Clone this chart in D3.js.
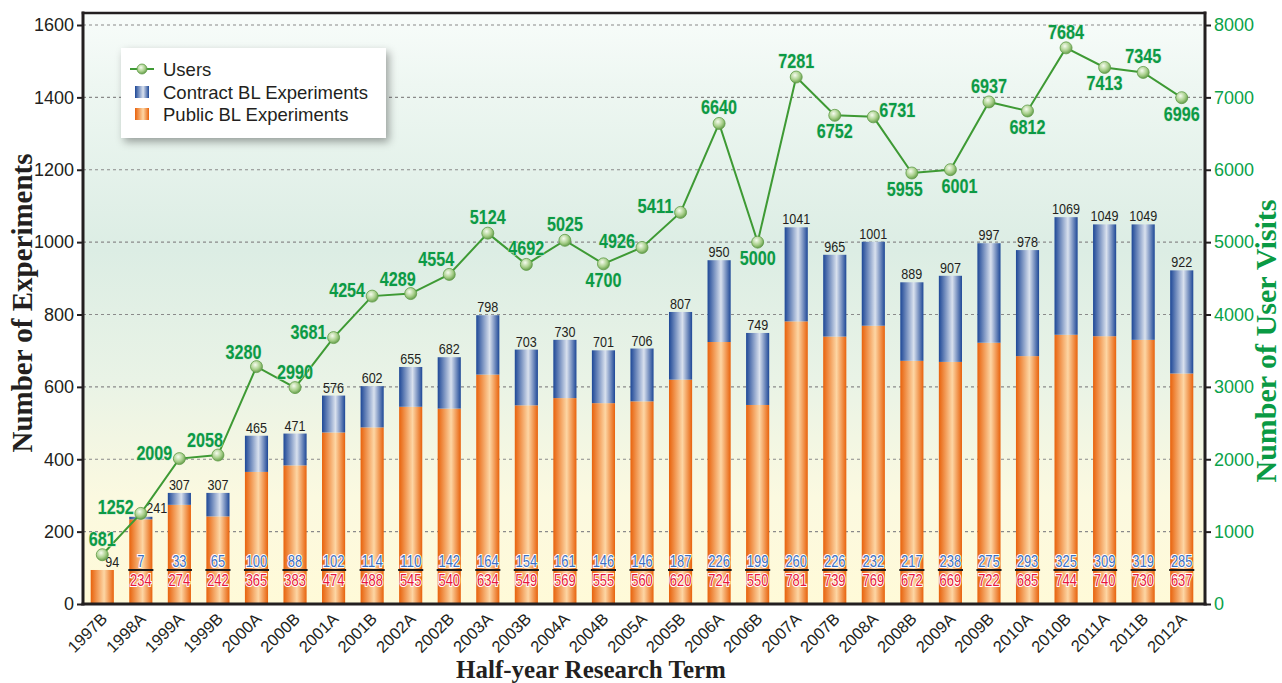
<!DOCTYPE html>
<html>
<head>
<meta charset="utf-8">
<script src="https://cdn.jsdelivr.net/npm/d3@7"></script>
<style>
body { margin: 0; background: #fff; }
svg { display: block; }
text { font-family: "Liberation Sans", Arial, sans-serif; }
.serif { font-family: "Liberation Serif", "Times New Roman", serif; font-weight: bold; }
</style>
</head>
<body>
<script>
//Chart data

const terms = ["1997B", "1998A", "1999A", "1999B", "2000A", "2000B", "2001A", "2001B", "2002A", "2002B",
    "2003A", "2003B", "2004A", "2004B", "2005A", "2005B", "2006A", "2006B", "2007A", "2007B",
    "2008A", "2008B", "2009A", "2009B", "2010A", "2010B", "2011A", "2011B", "2012A"];

const publicBL = [94, 234, 274, 242, 365, 383, 474, 488, 545, 540,
    634, 549, 569, 555, 560, 620, 724, 550, 781, 739,
    769, 672, 669, 722, 685, 744, 740, 730, 637];

const contractBL = [0, 7, 33, 65, 100, 88, 102, 114, 110, 142,
    164, 154, 161, 146, 146, 187, 226, 199, 260, 226,
    232, 217, 238, 275, 293, 325, 309, 319, 285];

const users = [681, 1252, 2009, 2058, 3280, 2990, 3681, 4254, 4289, 4554,
    5124, 4692, 5025, 4700, 4926, 5411, 6640, 5000, 7281, 6752,
    6731, 5955, 6001, 6937, 6812, 7684, 7413, 7345, 6996];

const leftTicks = [0, 200, 400, 600, 800, 1000, 1200, 1400, 1600];
const rightTicks = [0, 1000, 2000, 3000, 4000, 5000, 6000, 7000, 8000];

// where each user label sits around its point (A above, AL above-left, B below, BL/BR below-left/right, L left, R right)
const userLabelPos = ["A", "L", "L", "AL", "AL", "A", "L", "L", "AL", "AL",
    "A", "A", "A", "B", "L", "L", "A", "B", "A", "B",
    "R", "BL", "BR", "A", "B", "A", "B", "A", "B"];

//Setting up the svg

var width = 1282, height = 683;
var plot = { left: 83, right: 1205, top: 13, bottom: 604 };

var svg = d3.select("body")
    .append("svg")
    .attr("width", width)
    .attr("height", height);

var defs = svg.append("defs");

var bg = defs.append("linearGradient").attr("id", "bg")
    .attr("x1", 0).attr("y1", 0).attr("x2", 0).attr("y2", 1);
[[0, "#f8fcfa"], [0.12, "#eef7f2"], [0.4, "#dcede4"], [0.62, "#e9f3e6"], [0.82, "#fbf9e0"], [1, "#fffad8"]]
    .forEach(function (s) { bg.append("stop").attr("offset", s[0]).attr("stop-color", s[1]); });

function barGradient(id, dark, light) {
    var g = defs.append("linearGradient").attr("id", id)
        .attr("x1", 0).attr("y1", 0).attr("x2", 1).attr("y2", 0);
    g.append("stop").attr("offset", 0).attr("stop-color", dark);
    g.append("stop").attr("offset", 0.58).attr("stop-color", light);
    g.append("stop").attr("offset", 1).attr("stop-color", dark);
}
barGradient("orange", "#e8620c", "#fdd6a4");
barGradient("blue", "#1d4796", "#d9e1ee");

var dot = defs.append("radialGradient").attr("id", "dot")
    .attr("cx", 0.4).attr("cy", 0.35).attr("r", 0.65);
dot.append("stop").attr("offset", 0).attr("stop-color", "#f6fbef");
dot.append("stop").attr("offset", 0.6).attr("stop-color", "#a9d08c");
dot.append("stop").attr("offset", 1).attr("stop-color", "#679f4c");

var shadow = defs.append("filter").attr("id", "shadow")
    .attr("x", -0.1).attr("y", -0.2).attr("width", 1.3).attr("height", 1.5);
shadow.append("feDropShadow").attr("dx", 3).attr("dy", 4)
    .attr("stdDeviation", 4).attr("flood-color", "#000").attr("flood-opacity", 0.35);

// the source uses a condensed face, so squeeze the digits
function squeeze(sel, perChar) {
    sel.attr("textLength", function (d) { return String(d).length * perChar; })
        .attr("lengthAdjust", "spacingAndGlyphs");
}

//Scales

var x = d3.scaleBand()
    .domain(terms)
    .range([plot.left, 1201])
    .paddingInner(0.4)
    .paddingOuter(0.2);

var y = d3.scaleLinear().domain([0, 1600]).range([plot.bottom, 25]);
var yR = d3.scaleLinear().domain([0, 8000]).range([plot.bottom, 25]);

var cx = function (d, i) { return x(terms[i]) + x.bandwidth() / 2; };

//Background and grid

svg.append("rect")
    .attr("x", plot.left).attr("y", plot.top)
    .attr("width", plot.right - plot.left).attr("height", plot.bottom - plot.top)
    .attr("fill", "url(#bg)");

svg.append("g")
    .selectAll("line")
    .data(leftTicks.slice(1))
    .enter().append("line")
    .attr("x1", plot.left).attr("x2", plot.right)
    .attr("y1", function (d) { return y(d); })
    .attr("y2", function (d) { return y(d); })
    .attr("stroke", "#8a8a8a")
    .attr("stroke-width", 1.2)
    .attr("stroke-dasharray", "3,3");

//Bars

var bars = svg.append("g");

bars.selectAll(".pub")
    .data(publicBL)
    .enter().append("rect")
    .attr("x", function (d, i) { return x(terms[i]); })
    .attr("y", function (d) { return y(d); })
    .attr("width", x.bandwidth())
    .attr("height", function (d) { return y(0) - y(d); })
    .attr("fill", "url(#orange)");

bars.selectAll(".con")
    .data(contractBL)
    .enter().append("rect")
    .attr("x", function (d, i) { return x(terms[i]); })
    .attr("y", function (d, i) { return y(publicBL[i] + d); })
    .attr("width", x.bandwidth())
    .attr("height", function (d, i) { return y(publicBL[i]) - y(publicBL[i] + d); })
    .attr("fill", "url(#blue)");

// totals above the bars
bars.selectAll(".total")
    .data(publicBL.map(function (d, i) { return d + contractBL[i]; }))
    .enter().append("text")
    .attr("x", function (d, i) { return cx(d, i) + (i == 0 ? 10 : i == 1 ? 16 : 0); })
    .attr("y", function (d, i) { return y(d) - (i == 1 ? 4 : 3); })
    .attr("text-anchor", "middle")
    .attr("font-size", 15)
    .attr("fill", "#231f20")
    .text(function (d) { return d; })
    .call(squeeze, 7);

// split labels near the foot of each bar
var labelY = y(94);

contractBL.forEach(function (c, i) {
    if (c == 0) return;
    var g = bars.append("g");
    g.append("line")
        .attr("x1", x(terms[i]) - 1).attr("x2", x(terms[i]) + x.bandwidth() + 1)
        .attr("y1", labelY).attr("y2", labelY)
        .attr("stroke", "#1a1a1a").attr("stroke-width", 2);
    g.append("text")
        .datum(c)
        .attr("x", cx(c, i)).attr("y", labelY - 3)
        .attr("text-anchor", "middle")
        .attr("font-size", 17)
        .attr("fill", "#3d70c2")
        .attr("stroke", "#fff").attr("stroke-width", 2.2)
        .attr("paint-order", "stroke")
        .text(c)
        .call(squeeze, 7.2);
    g.append("text")
        .datum(publicBL[i])
        .attr("x", cx(c, i)).attr("y", labelY + 16)
        .attr("text-anchor", "middle")
        .attr("font-size", 17)
        .attr("fill", "#e8183b")
        .attr("stroke", "#fff").attr("stroke-width", 2.2)
        .attr("paint-order", "stroke")
        .text(publicBL[i])
        .call(squeeze, 7.2);
});

//Users line

var line = d3.line()
    .x(function (d, i) { return cx(d, i); })
    .y(function (d) { return yR(d); });

svg.append("path")
    .datum(users)
    .attr("d", line)
    .attr("fill", "none")
    .attr("stroke", "#3e9a34")
    .attr("stroke-width", 2);

svg.append("g")
    .selectAll("circle")
    .data(users)
    .enter().append("circle")
    .attr("cx", cx)
    .attr("cy", function (d) { return yR(d); })
    .attr("r", 6)
    .attr("fill", "url(#dot)")
    .attr("stroke", "#5f9c48")
    .attr("stroke-width", 0.8);

var place = {
    A: { dx: 0, dy: -9, anchor: "middle" },
    AL: { dx: -13, dy: -8, anchor: "middle" },
    B: { dx: 0, dy: 23, anchor: "middle" },
    BL: { dx: -7, dy: 23, anchor: "middle" },
    BR: { dx: 9, dy: 23, anchor: "middle" },
    L: { dx: -7, dy: 1, anchor: "end" },
    R: { dx: 6, dy: 0, anchor: "start" }
};

svg.append("g")
    .selectAll("text")
    .data(users)
    .enter().append("text")
    .attr("x", function (d, i) { return cx(d, i) + place[userLabelPos[i]].dx; })
    .attr("y", function (d, i) { return yR(d) + place[userLabelPos[i]].dy; })
    .attr("text-anchor", function (d, i) { return place[userLabelPos[i]].anchor; })
    .attr("font-size", 20)
    .attr("font-weight", "bold")
    .attr("fill", "#0c9a45")
    .attr("stroke", "#cfe8d4").attr("stroke-width", 1)
    .attr("paint-order", "stroke")
    .text(function (d) { return d; })
    .call(squeeze, 9);

//Frame and axes

var frame = svg.append("g").attr("stroke", "#231f20").attr("stroke-linecap", "square");
frame.append("line").attr("x1", plot.left).attr("x2", plot.right)
    .attr("y1", plot.top).attr("y2", plot.top).attr("stroke-width", 2.5);
frame.append("line").attr("x1", plot.left).attr("x2", plot.right)
    .attr("y1", plot.bottom).attr("y2", plot.bottom).attr("stroke-width", 3);
frame.append("line").attr("x1", plot.left).attr("x2", plot.left)
    .attr("y1", plot.top).attr("y2", plot.bottom).attr("stroke-width", 3);
frame.append("line").attr("x1", plot.right).attr("x2", plot.right)
    .attr("y1", plot.top).attr("y2", plot.bottom).attr("stroke-width", 3);

var leftAxis = svg.append("g")
    .attr("transform", "translate(" + (plot.left - 1) + ",0)")
    .call(d3.axisLeft(y).tickValues(leftTicks).tickSize(5).tickPadding(3).tickFormat(d3.format("d")));
leftAxis.select(".domain").remove();
leftAxis.selectAll("line").attr("stroke", "#231f20").attr("stroke-width", 2);
leftAxis.selectAll("text")
    .attr("font-size", 18)
    .attr("font-family", "Liberation Sans, Arial, sans-serif")
    .attr("fill", "#231f20");

var rightAxis = svg.append("g")
    .attr("transform", "translate(" + (plot.right + 1) + ",0)")
    .call(d3.axisRight(yR).tickValues(rightTicks).tickSize(5).tickPadding(3).tickFormat(d3.format("d")));
rightAxis.select(".domain").remove();
rightAxis.selectAll("line").attr("stroke", "#231f20").attr("stroke-width", 2);
rightAxis.selectAll("text")
    .attr("font-size", 18)
    .attr("font-family", "Liberation Sans, Arial, sans-serif")
    .attr("fill", "#0aa24a");

var bottomAxis = svg.append("g")
    .attr("transform", "translate(0," + plot.bottom + ")")
    .call(d3.axisBottom(x).tickSize(0).tickPadding(0));
bottomAxis.select(".domain").remove();
bottomAxis.selectAll("text")
    .attr("font-size", 16.5)
    .attr("font-family", "Liberation Sans, Arial, sans-serif")
    .attr("fill", "#231f20")
    .attr("text-anchor", "end")
    .attr("dy", null)
    .attr("y", 0)
    .attr("transform", "translate(6,16) rotate(-45)");

//Axis titles

svg.append("text")
    .attr("class", "serif")
    .attr("transform", "translate(32,303) rotate(-90)")
    .attr("text-anchor", "middle")
    .attr("font-size", 29)
    .attr("fill", "#231f20")
    .text("Number of Experiments");

svg.append("text")
    .attr("class", "serif")
    .attr("transform", "translate(1276,341) rotate(-90)")
    .attr("text-anchor", "middle")
    .attr("font-size", 30)
    .attr("fill", "#0a9a44")
    .text("Number of User Visits");

svg.append("text")
    .attr("class", "serif")
    .attr("x", 591).attr("y", 678)
    .attr("text-anchor", "middle")
    .attr("font-size", 25)
    .attr("fill", "#231f20")
    .text("Half-year Research Term");

//Legend

var legend = svg.append("g").attr("transform", "translate(121,48)");
legend.append("rect")
    .attr("width", 265).attr("height", 90)
    .attr("fill", "#fff")
    .attr("filter", "url(#shadow)");

legend.append("line")
    .attr("x1", 9).attr("x2", 33).attr("y1", 21).attr("y2", 21)
    .attr("stroke", "#3e9a34").attr("stroke-width", 2);
legend.append("circle")
    .attr("cx", 21).attr("cy", 21).attr("r", 5)
    .attr("fill", "url(#dot)").attr("stroke", "#5f9c48").attr("stroke-width", 0.8);
legend.append("rect")
    .attr("x", 14).attr("y", 38).attr("width", 14).attr("height", 12)
    .attr("fill", "url(#blue)");
legend.append("rect")
    .attr("x", 14).attr("y", 60).attr("width", 14).attr("height", 12)
    .attr("fill", "url(#orange)");

legend.selectAll(".label")
    .data(["Users", "Contract BL Experiments", "Public BL Experiments"])
    .enter().append("text")
    .attr("x", 42)
    .attr("y", function (d, i) { return 28 + i * 22.5; })
    .attr("font-size", 18.5)
    .attr("fill", "#231f20")
    .text(function (d) { return d; });
</script>
</body>
</html>
